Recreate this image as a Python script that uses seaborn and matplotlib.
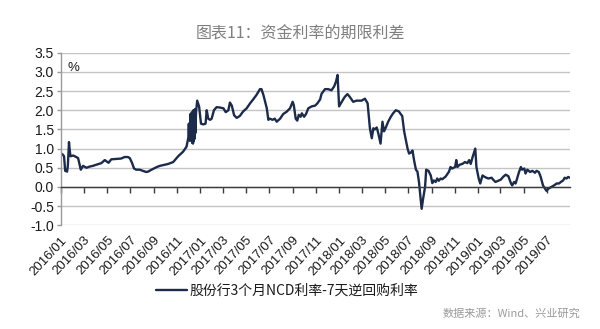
import matplotlib
matplotlib.use("Agg")
import matplotlib.pyplot as plt
import matplotlib.dates as mdates
from matplotlib.ticker import MultipleLocator, FormatStrFormatter
import pandas as pd
import seaborn as sns

title = "图表11：资金利率的期限利差"
series_name = "股份行3个月NCD利率-7天逆回购利率"
source_note = "数据来源：Wind、兴业研究"
unit_label = "%"

# Spread between joint-stock bank 3M NCD rate and 7-day reverse repo rate (%)
dates_2016 = ["2016-01-01", "2016-01-05", "2016-01-09", "2016-01-12", "2016-01-17", "2016-01-19",
              "2016-01-22", "2016-01-24", "2016-01-26", "2016-02-02", "2016-02-10", "2016-02-15",
              "2016-02-22", "2016-02-28", "2016-03-08", "2016-03-16", "2016-03-25", "2016-04-03",
              "2016-04-16", "2016-04-25", "2016-05-05", "2016-05-12", "2016-05-25", "2016-06-07",
              "2016-06-16", "2016-06-25", "2016-06-30", "2016-07-06", "2016-07-11", "2016-07-17",
              "2016-07-26", "2016-08-03", "2016-08-12", "2016-08-17", "2016-08-26", "2016-09-09",
              "2016-09-17", "2016-09-26", "2016-10-09", "2016-10-22", "2016-11-04", "2016-11-17",
              "2016-11-26", "2016-12-01", "2016-12-02", "2016-12-03", "2016-12-04", "2016-12-05",
              "2016-12-06", "2016-12-07", "2016-12-08", "2016-12-09", "2016-12-10", "2016-12-11",
              "2016-12-12", "2016-12-13", "2016-12-14", "2016-12-15", "2016-12-16", "2016-12-17",
              "2016-12-18", "2016-12-19", "2016-12-21", "2016-12-24", "2016-12-29"]
values_2016 = [0.87, 0.85, 0.80, 0.42, 0.40, 0.55,
               1.17, 0.95, 0.80, 0.82, 0.78, 0.75,
               0.45, 0.55, 0.50, 0.53, 0.55, 0.58,
               0.62, 0.70, 0.63, 0.72, 0.73, 0.74,
               0.78, 0.78, 0.75, 0.62, 0.48, 0.45,
               0.45, 0.42, 0.39, 0.40, 0.45, 0.52,
               0.55, 0.57, 0.60, 0.65, 0.80, 0.92,
               1.05, 1.30, 1.65, 1.25, 1.60, 1.20,
               1.90, 1.30, 1.85, 1.35, 1.95, 1.15,
               1.90, 1.13, 2.00, 1.20, 1.98, 1.25,
               2.03, 1.40, 1.95, 2.25, 2.10]

dates_2017 = ["2017-01-03", "2017-01-09", "2017-01-15", "2017-01-18", "2017-01-22", "2017-01-27",
              "2017-01-31", "2017-02-06", "2017-02-13", "2017-02-22", "2017-03-03", "2017-03-09",
              "2017-03-16", "2017-03-20", "2017-03-25", "2017-03-31", "2017-04-07", "2017-04-15",
              "2017-04-24", "2017-05-03", "2017-05-12", "2017-05-20", "2017-05-29", "2017-06-07",
              "2017-06-11", "2017-06-16", "2017-06-25", "2017-06-29", "2017-07-03", "2017-07-10",
              "2017-07-16", "2017-07-21", "2017-07-30", "2017-08-07", "2017-08-16", "2017-08-25",
              "2017-09-01", "2017-09-04", "2017-09-09", "2017-09-13", "2017-09-17", "2017-09-22",
              "2017-09-25", "2017-10-01", "2017-10-06", "2017-10-12", "2017-10-21", "2017-10-30",
              "2017-11-05", "2017-11-12", "2017-11-16", "2017-11-25", "2017-12-03", "2017-12-12",
              "2017-12-19", "2017-12-24", "2017-12-28"]
values_2017 = [1.65, 1.63, 1.65, 2.00, 1.78, 1.75,
               1.78, 2.00, 2.08, 2.07, 2.05, 1.95,
               2.00, 2.20, 2.12, 1.87, 1.80, 1.85,
               1.97, 2.05, 2.18, 2.28, 2.40, 2.55,
               2.55, 2.40, 2.05, 1.75, 1.78, 1.75,
               1.78, 1.70, 1.78, 1.90, 1.96, 2.05,
               2.22, 2.13, 1.78, 1.73, 1.88, 1.83,
               1.92, 1.83, 1.90, 2.05, 2.10, 2.12,
               2.18, 2.28, 2.43, 2.55, 2.55, 2.52,
               2.62, 2.75, 2.92]

dates_2018 = ["2018-01-01", "2018-01-08", "2018-01-16", "2018-01-23", "2018-01-29", "2018-02-07",
              "2018-02-16", "2018-03-01", "2018-03-10", "2018-03-17", "2018-03-20", "2018-03-23",
              "2018-03-28", "2018-04-01", "2018-04-05", "2018-04-10", "2018-04-14", "2018-04-20",
              "2018-04-25", "2018-04-29", "2018-05-03", "2018-05-10", "2018-05-17", "2018-05-23",
              "2018-05-30", "2018-06-07", "2018-06-12", "2018-06-16", "2018-06-21", "2018-06-26",
              "2018-06-30", "2018-07-04", "2018-07-09", "2018-07-13", "2018-07-17", "2018-07-22",
              "2018-07-26", "2018-07-30", "2018-08-03", "2018-08-06", "2018-08-10", "2018-08-15",
              "2018-08-18", "2018-08-24", "2018-08-30", "2018-09-03", "2018-09-07", "2018-09-12",
              "2018-09-16", "2018-09-20", "2018-09-25", "2018-09-29", "2018-10-08", "2018-10-17",
              "2018-10-21", "2018-10-25", "2018-11-02", "2018-11-05", "2018-11-08", "2018-11-14",
              "2018-11-21", "2018-11-28", "2018-12-04", "2018-12-09", "2018-12-13", "2018-12-18",
              "2018-12-25", "2018-12-28"]
values_2018 = [2.10, 2.22, 2.35, 2.42, 2.35, 2.22,
               2.25, 2.25, 2.30, 2.18, 1.85, 1.53,
               1.27, 1.53, 1.50, 1.55, 1.40, 1.13,
               1.70, 1.45, 1.53, 1.70, 1.83, 1.92,
               2.00, 1.97, 1.90, 1.85, 1.45, 1.20,
               1.00, 0.87, 0.90, 0.95, 0.70, 0.45,
               0.40, 0.13, -0.27, -0.57, -0.30, 0.00,
               0.45, 0.42, 0.30, 0.10, 0.17, 0.13,
               0.22, 0.16, 0.22, 0.20, 0.27, 0.40,
               0.52, 0.48, 0.52, 0.70, 0.52, 0.58,
               0.60, 0.65, 0.62, 0.70, 0.60, 0.78,
               1.00, 0.52]

dates_2019 = ["2019-01-03", "2019-01-07", "2019-01-13", "2019-01-19", "2019-01-28", "2019-02-06",
              "2019-02-10", "2019-02-16", "2019-02-23", "2019-03-02", "2019-03-08", "2019-03-15",
              "2019-03-22", "2019-03-29", "2019-04-01", "2019-04-06", "2019-04-10", "2019-04-15",
              "2019-04-19", "2019-04-24", "2019-04-27", "2019-05-03", "2019-05-06", "2019-05-11",
              "2019-05-18", "2019-05-24", "2019-05-31", "2019-06-04", "2019-06-10", "2019-06-15",
              "2019-06-21", "2019-06-26", "2019-06-30", "2019-07-06", "2019-07-13", "2019-07-20",
              "2019-07-27", "2019-08-02", "2019-08-07", "2019-08-13", "2019-08-17", "2019-08-22",
              "2019-08-26", "2019-08-31"]
values_2019 = [0.22, 0.09, 0.30, 0.26, 0.22, 0.24,
               0.19, 0.13, 0.16, 0.19, 0.26, 0.32,
               0.28, 0.09, 0.04, 0.13, 0.09, 0.26,
               0.39, 0.52, 0.45, 0.48, 0.35, 0.45,
               0.39, 0.42, 0.37, 0.42, 0.39, 0.26,
               0.04, -0.04, -0.10, -0.04, 0.00, 0.04,
               0.09, 0.09, 0.13, 0.17, 0.24, 0.22,
               0.26, 0.24]

df = pd.DataFrame({
    "date": pd.to_datetime(dates_2016 + dates_2017 + dates_2018 + dates_2019),
    "value": values_2016 + values_2017 + values_2018 + values_2019,
})

sns.set_theme(style="white")
plt.rcParams["font.family"] = ["Liberation Sans", "Noto Sans CJK SC", "DejaVu Sans"]
cjk = ["Noto Sans CJK SC", "DejaVu Sans"]

fig = plt.figure(figsize=(6, 3.29), dpi=100)
ax = fig.add_axes([61 / 600, 1 - 225.3 / 329, (570 - 61) / 600, (225.3 - 52.7) / 329])

sns.lineplot(data=df, x="date", y="value", ax=ax, color="#1c2b4a", linewidth=1.7,
             estimator=None, label=series_name)

ax.set_ylim(-1.0, 3.5)
ax.set_xlim(pd.Timestamp("2016-01-01"), pd.Timestamp("2019-08-31"))
ax.set_xlabel("")
ax.set_ylabel("")

ax.yaxis.set_major_locator(MultipleLocator(0.5))
ax.yaxis.set_major_formatter(FormatStrFormatter("%.1f"))
ax.grid(axis="y", color="#c4c4c4", linewidth=1.0)
ax.grid(axis="x", visible=False)
ax.set_axisbelow(True)

for side in ["top", "right"]:
    ax.spines[side].set_visible(False)
ax.spines["left"].set_color("#9a9a9a")
ax.spines["left"].set_linewidth(1.0)
ax.spines["bottom"].set_position(("data", 0))
ax.spines["bottom"].set_color("#3a3a3a")
ax.spines["bottom"].set_linewidth(1.0)

ax.xaxis.set_major_locator(mdates.MonthLocator(bymonth=[1, 3, 5, 7, 9, 11]))
ax.xaxis.set_major_formatter(mdates.DateFormatter("%Y/%m"))
ax.tick_params(axis="x", bottom=True, direction="out", length=4, width=1, color="#3a3a3a",
               pad=30, labelsize=9.5, labelcolor="#1a1a1a")
ax.tick_params(axis="y", left=True, direction="out", length=3, width=1, color="#9a9a9a",
               pad=2, labelsize=10, labelcolor="#1a1a1a")
for lbl in ax.get_xticklabels():
    lbl.set_rotation(47)
    lbl.set_horizontalalignment("right")
    lbl.set_verticalalignment("top")
    lbl.set_rotation_mode("anchor")

ax.text(0.013, 3.1, unit_label, transform=ax.get_yaxis_transform(), fontsize=9.5,
        color="#1a1a1a", ha="left", va="center")

fig.text(0.5, 1 - 34 / 329, title, ha="center", va="center", fontsize=11.5,
         color="#7f7f7f", family=cjk)

ax.legend(loc="center", bbox_to_anchor=(287 / 600, 1 - 291 / 329),
          bbox_transform=fig.transFigure, frameon=False,
          prop={"family": cjk, "size": 10}, handlelength=2.2, handletextpad=0.2,
          labelcolor="#1a1a1a")

fig.text(580 / 600, 1 - 314 / 329, source_note, ha="right", va="center", fontsize=8,
         color="#9a9a9a", family=cjk)

fig.savefig("out.png", dpi=100)
